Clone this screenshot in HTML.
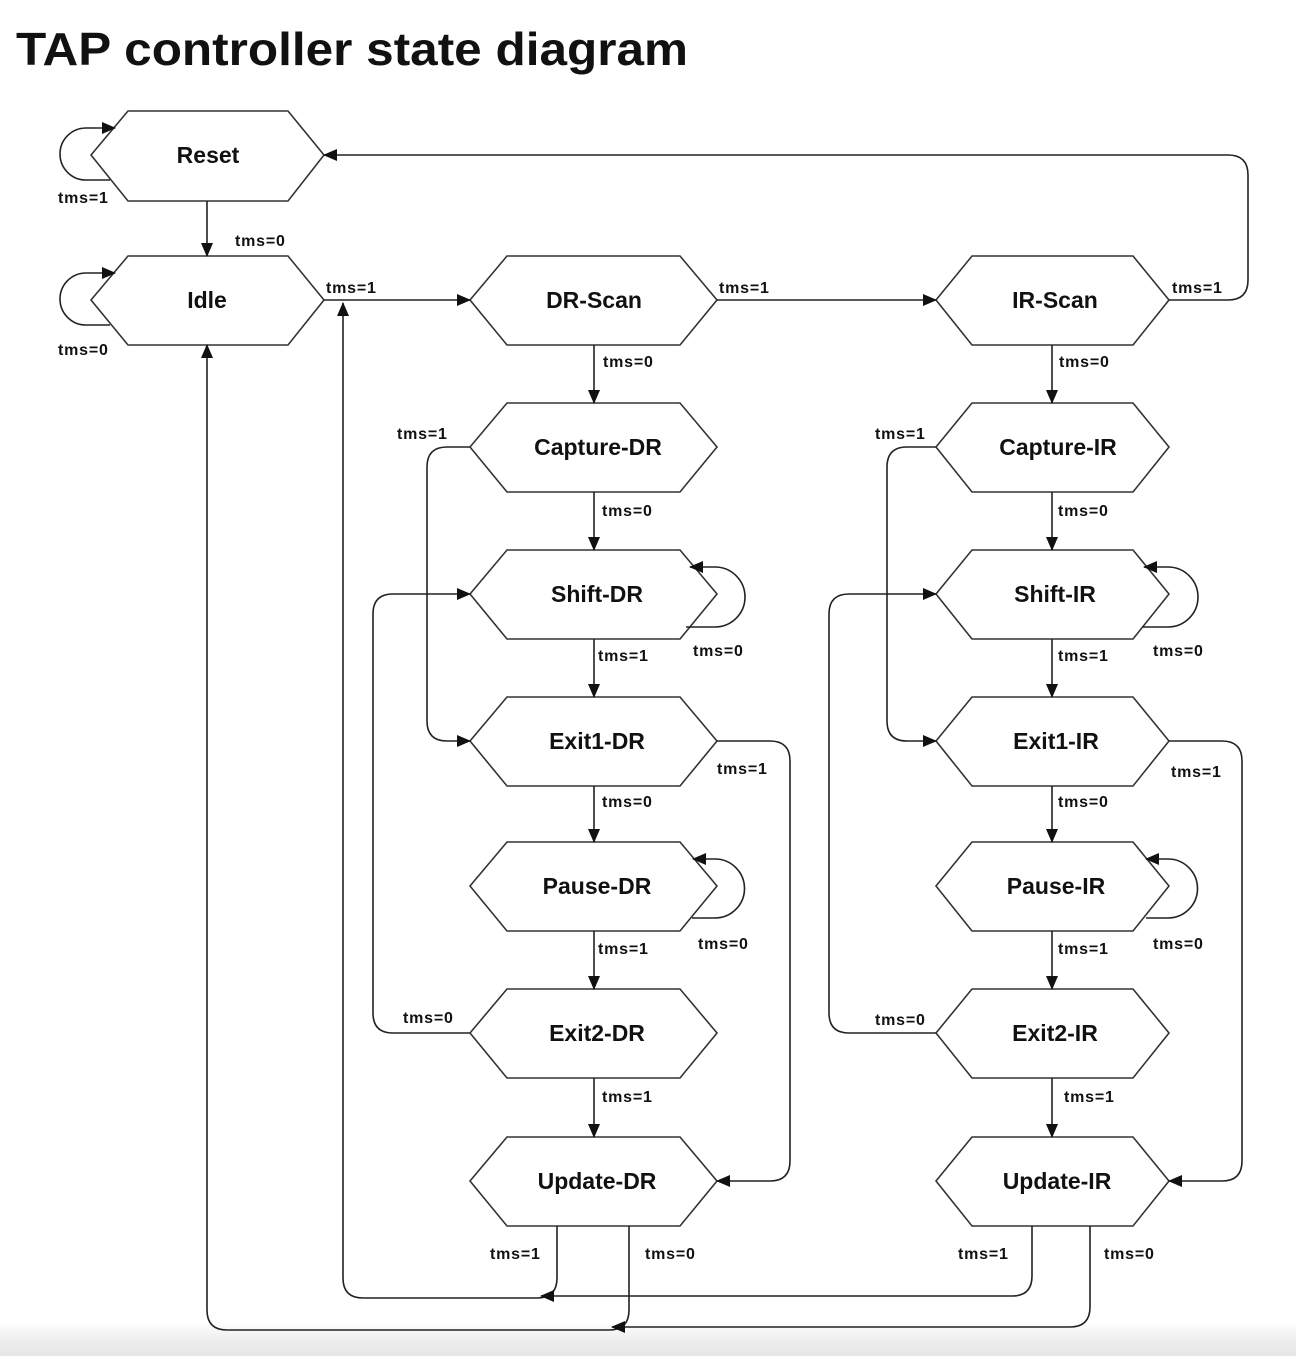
<!DOCTYPE html>
<html><head><meta charset="utf-8"><style>
html,body{margin:0;padding:0;background:#fff;}
body{width:1296px;height:1356px;overflow:hidden;position:relative;}
.band{position:absolute;left:0;top:1322px;width:1296px;height:34px;background:linear-gradient(#fff,#ececec 60%,#e6e6e6);}
svg{position:absolute;left:0;top:0;}
text{font-family:"Liberation Sans",Arial,sans-serif;font-weight:bold;fill:#111;}
.s{font-size:23px;text-anchor:middle;}
.l{font-size:16px;letter-spacing:0.8px;}
</style></head><body>
<div class="band"></div>
<svg width="1296" height="1356" viewBox="0 0 1296 1356">
<defs>
<marker id="a" markerWidth="14" markerHeight="14" refX="13" refY="7" orient="auto" markerUnits="userSpaceOnUse">
<path d="M0,1 L14,7 L0,13 Z" fill="#111"/></marker>
</defs>
<text x="16" y="65" font-size="46" textLength="672" lengthAdjust="spacingAndGlyphs">TAP controller state diagram</text>
<g fill="#fff" stroke="#333" stroke-width="1.6">
<polygon points="91,155 128,111 288,111 324,155 288,201 128,201"/>
<polygon points="91,300 128,256 288,256 324,300 288,345 128,345"/>
<polygon points="470,300 507,256 680,256 717,300 680,345 507,345"/>
<polygon points="470,447 507,403 680,403 717,447 680,492 507,492"/>
<polygon points="470,594 507,550 680,550 717,594 680,639 507,639"/>
<polygon points="470,741 507,697 680,697 717,741 680,786 507,786"/>
<polygon points="470,886 507,842 680,842 717,886 680,931 507,931"/>
<polygon points="470,1033 507,989 680,989 717,1033 680,1078 507,1078"/>
<polygon points="470,1181 507,1137 680,1137 717,1181 680,1226 507,1226"/>
<polygon points="936,300 972,256 1133,256 1169,300 1133,345 972,345"/>
<polygon points="936,447 972,403 1133,403 1169,447 1133,492 972,492"/>
<polygon points="936,594 972,550 1133,550 1169,594 1133,639 972,639"/>
<polygon points="936,741 972,697 1133,697 1169,741 1133,786 972,786"/>
<polygon points="936,886 972,842 1133,842 1169,886 1133,931 972,931"/>
<polygon points="936,1033 972,989 1133,989 1169,1033 1133,1078 972,1078"/>
<polygon points="936,1181 972,1137 1133,1137 1169,1181 1133,1226 972,1226"/>
</g>
<g fill="none" stroke="#222" stroke-width="1.6">
<path d="M110,180 L86,180 A26,26 0 0 1 86,128 L115,128" marker-end="url(#a)"/>
<path d="M110,325 L86,325 A26,26 0 0 1 86,273 L115,273" marker-end="url(#a)"/>
<path d="M207,201 L207,256" marker-end="url(#a)"/>
<path d="M324,300 L470,300" marker-end="url(#a)"/>
<path d="M717,300 L936,300" marker-end="url(#a)"/>
<path d="M1169,300 L1228,300 Q1248,300 1248,280 L1248,175 Q1248,155 1228,155 L324,155" marker-end="url(#a)"/>
<path d="M594,345 L594,403" marker-end="url(#a)"/>
<path d="M594,492 L594,550" marker-end="url(#a)"/>
<path d="M594,639 L594,697" marker-end="url(#a)"/>
<path d="M594,786 L594,842" marker-end="url(#a)"/>
<path d="M594,931 L594,989" marker-end="url(#a)"/>
<path d="M594,1078 L594,1137" marker-end="url(#a)"/>
<path d="M1052,345 L1052,403" marker-end="url(#a)"/>
<path d="M1052,492 L1052,550" marker-end="url(#a)"/>
<path d="M1052,639 L1052,697" marker-end="url(#a)"/>
<path d="M1052,786 L1052,842" marker-end="url(#a)"/>
<path d="M1052,931 L1052,989" marker-end="url(#a)"/>
<path d="M1052,1078 L1052,1137" marker-end="url(#a)"/>
<path d="M686,627 L715,627 A29,29 0 0 0 715,567 L690,567" marker-end="url(#a)"/>
<path d="M692,918 L715,918 A29,29 0 0 0 715,859 L693,859" marker-end="url(#a)"/>
<path d="M1142,627 L1168,627 A29,29 0 0 0 1168,567 L1144,567" marker-end="url(#a)"/>
<path d="M1146,918 L1168,918 A29,29 0 0 0 1168,859 L1146,859" marker-end="url(#a)"/>
<path d="M470,447 L447,447 Q427,447 427,467 L427,721 Q427,741 447,741 L470,741" marker-end="url(#a)"/>
<path d="M936,447 L907,447 Q887,447 887,467 L887,721 Q887,741 907,741 L936,741" marker-end="url(#a)"/>
<path d="M470,1033 L393,1033 Q373,1033 373,1013 L373,614 Q373,594 393,594 L470,594" marker-end="url(#a)"/>
<path d="M936,1033 L849,1033 Q829,1033 829,1013 L829,614 Q829,594 849,594 L936,594" marker-end="url(#a)"/>
<path d="M717,741 L770,741 Q790,741 790,761 L790,1161 Q790,1181 770,1181 L717,1181" marker-end="url(#a)"/>
<path d="M1169,741 L1222,741 Q1242,741 1242,761 L1242,1161 Q1242,1181 1222,1181 L1169,1181" marker-end="url(#a)"/>
<path d="M557,1226 L557,1278 Q557,1298 537,1298 L363,1298 Q343,1298 343,1278 L343,303" marker-end="url(#a)"/>
<path d="M1032,1226 L1032,1276 Q1032,1296 1012,1296 L541,1296" marker-end="url(#a)"/>
<path d="M629,1226 L629,1310 Q629,1330 609,1330 L227,1330 Q207,1330 207,1310 L207,345" marker-end="url(#a)"/>
<path d="M1090,1226 L1090,1307 Q1090,1327 1070,1327 L612,1327" marker-end="url(#a)"/>
</g>
<g class="s">
<text x="208" y="163">Reset</text>
<text x="207" y="308">Idle</text>
<text x="594" y="308">DR-Scan</text>
<text x="598" y="455">Capture-DR</text>
<text x="597" y="602">Shift-DR</text>
<text x="597" y="749">Exit1-DR</text>
<text x="597" y="894">Pause-DR</text>
<text x="597" y="1041">Exit2-DR</text>
<text x="597" y="1189">Update-DR</text>
<text x="1055" y="308">IR-Scan</text>
<text x="1058" y="455">Capture-IR</text>
<text x="1055" y="602">Shift-IR</text>
<text x="1056" y="749">Exit1-IR</text>
<text x="1056" y="894">Pause-IR</text>
<text x="1055" y="1041">Exit2-IR</text>
<text x="1057" y="1189">Update-IR</text>
</g>
<g class="l">
<text x="58" y="203">tms=1</text>
<text x="235" y="246">tms=0</text>
<text x="58" y="355">tms=0</text>
<text x="326" y="293">tms=1</text>
<text x="719" y="293">tms=1</text>
<text x="1172" y="293">tms=1</text>
<text x="603" y="367">tms=0</text>
<text x="1059" y="367">tms=0</text>
<text x="397" y="439">tms=1</text>
<text x="875" y="439">tms=1</text>
<text x="602" y="516">tms=0</text>
<text x="1058" y="516">tms=0</text>
<text x="598" y="661">tms=1</text>
<text x="693" y="656">tms=0</text>
<text x="1058" y="661">tms=1</text>
<text x="1153" y="656">tms=0</text>
<text x="717" y="774">tms=1</text>
<text x="1171" y="777">tms=1</text>
<text x="602" y="807">tms=0</text>
<text x="1058" y="807">tms=0</text>
<text x="598" y="954">tms=1</text>
<text x="698" y="949">tms=0</text>
<text x="1058" y="954">tms=1</text>
<text x="1153" y="949">tms=0</text>
<text x="403" y="1023">tms=0</text>
<text x="875" y="1025">tms=0</text>
<text x="602" y="1102">tms=1</text>
<text x="1064" y="1102">tms=1</text>
<text x="490" y="1259">tms=1</text>
<text x="645" y="1259">tms=0</text>
<text x="958" y="1259">tms=1</text>
<text x="1104" y="1259">tms=0</text>
</g>
</svg>
</body></html>
